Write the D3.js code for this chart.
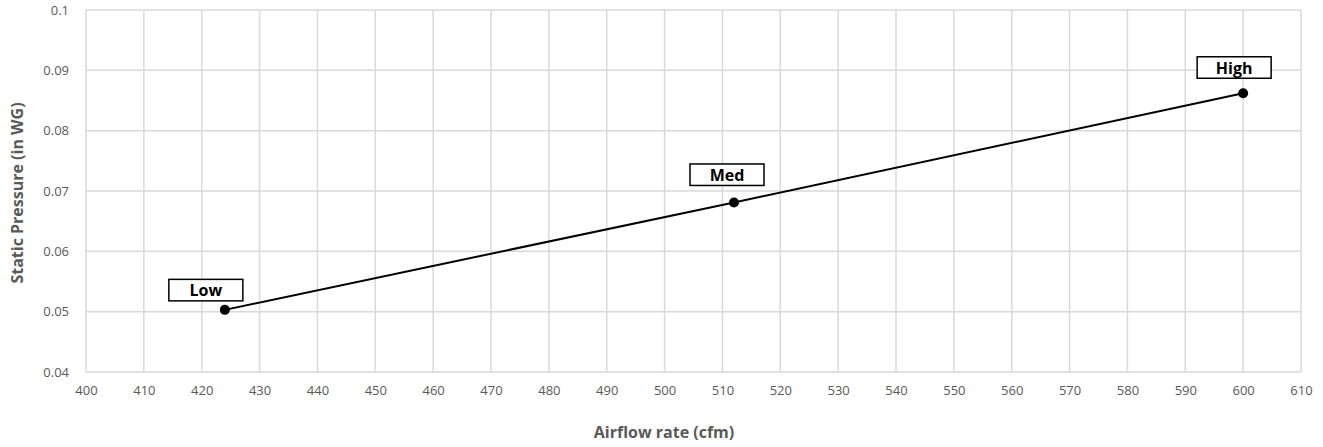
<!DOCTYPE html>
<html>
<head>
<meta charset="utf-8">
<script src="https://cdn.jsdelivr.net/npm/d3@7"></script>
<style>
  body { margin: 0; background: #fff; }
  text { font-family: "Open Sans", Lato, sans-serif; }
</style>
</head>
<body>
<svg id="chart" width="1323" height="447"></svg>
<script>
// speed settings
var speeds = ['Low', 'Med', 'High'];
var airflow = [424, 512, 600];
var pressure = [0.0503, 0.0681, 0.0862];

var xTicks = d3.range(400, 611, 10);
var yTicks = [0.04, 0.05, 0.06, 0.07, 0.08, 0.09, 0.1];

var margin = { left: 86, right: 22, top: 10, bottom: 75 };
var W = 1323, H = 447;

var svg = d3.select('#chart');
var x = d3.scaleLinear().domain([400, 610]).range([margin.left, W - margin.right]);
var y = d3.scaleLinear().domain([0.04, 0.1]).range([H - margin.bottom, margin.top]);

// gridlines
svg.append('g').selectAll('line').data(xTicks).enter().append('line')
    .attr('x1', function(d) { return x(d); }).attr('x2', function(d) { return x(d); })
    .attr('y1', y(0.04)).attr('y2', y(0.1))
    .attr('stroke', '#d9d9d9').attr('stroke-width', 1.5);
svg.append('g').selectAll('line').data(yTicks).enter().append('line')
    .attr('x1', x(400)).attr('x2', x(610))
    .attr('y1', function(d) { return y(d); }).attr('y2', function(d) { return y(d); })
    .attr('stroke', '#d9d9d9').attr('stroke-width', 1.5);

// axes (labels only, grid does the lines)
var xAxis = svg.append('g').attr('transform', 'translate(0,' + (y(0.04) + 12) + ')')
    .call(d3.axisBottom(x).tickValues(xTicks).tickSize(0).tickFormat(d3.format('d')));
var yAxis = svg.append('g').attr('transform', 'translate(' + (x(400) - 17) + ',0)')
    .call(d3.axisLeft(y).tickValues(yTicks).tickSize(0).tickFormat(function(d) { return String(+d.toFixed(2)); }));
[xAxis, yAxis].forEach(function(a) {
    a.select('.domain').remove();
    a.selectAll('text').attr('fill', '#595959').style('font-size', '13px')
        .style('font-family', '"Open Sans", Lato, sans-serif');
});
yAxis.selectAll('text').attr('x', 0);
xAxis.selectAll('text').attr('y', 0).attr('dy', '0.85em');

// axis titles
svg.append('text').attr('x', 664).attr('y', 438)
    .attr('text-anchor', 'middle').attr('fill', '#595959')
    .style('font-size', '16px').style('font-weight', 'bold').text('Airflow rate (cfm)');
svg.append('text').attr('transform', 'translate(23,193) rotate(-90)')
    .attr('text-anchor', 'middle').attr('fill', '#595959')
    .style('font-size', '16px').style('font-weight', 'bold').text('Static Pressure (in WG)');

// series
var pts = speeds.map(function(s, i) { return { name: s, x: airflow[i], y: pressure[i] }; });
svg.append('path').datum(pts)
    .attr('d', d3.line().x(function(d) { return x(d.x); }).y(function(d) { return y(d.y); }))
    .attr('fill', 'none').attr('stroke', '#000').attr('stroke-width', 2);
svg.append('g').selectAll('circle').data(pts).enter().append('circle')
    .attr('cx', function(d) { return x(d.x); }).attr('cy', function(d) { return y(d.y); })
    .attr('r', 5).attr('fill', '#000');

// boxed labels: box centre dx and box bottom dy relative to each point
var labelShift = [[-19, -9], [-7, -17], [-9, -15]];
var lbl = svg.append('g').selectAll('g').data(pts).enter().append('g')
    .attr('transform', function(d, i) {
        return 'translate(' + (x(d.x) + labelShift[i][0]) + ',' + (y(d.y) + labelShift[i][1]) + ')';
    });
lbl.append('rect').attr('x', -37).attr('y', -21.5).attr('width', 74).attr('height', 21.5)
    .attr('fill', '#fff').attr('stroke', '#000').attr('stroke-width', 1.5);
lbl.append('text').attr('y', -4.5).attr('text-anchor', 'middle')
    .style('font-size', '16px').style('font-weight', 'bold').attr('fill', '#000')
    .text(function(d) { return d.name; });
</script>
</body>
</html>
